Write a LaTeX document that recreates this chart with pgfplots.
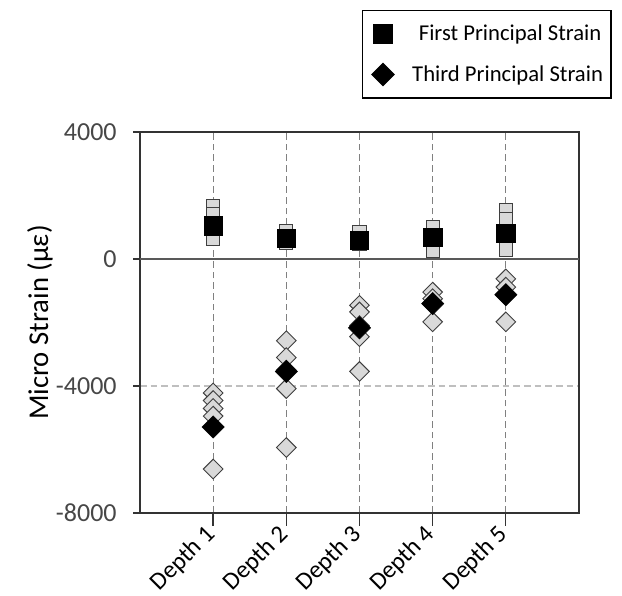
\documentclass[border=0pt]{standalone}
\usepackage{pgfplots}
\pgfplotsset{compat=1.18}
\usepackage{fontspec}
\setmainfont{Carlito}
\definecolor{lightfill}{HTML}{D9D9D9}
\definecolor{edgegray}{HTML}{3F3F3F}
\begin{document}
\begin{tikzpicture}
\useasboundingbox (-105pt,-62.25pt) rectangle (361.5pt,384.75pt);
\begin{axis}[
  at={(0,0)}, anchor=south west, scale only axis,
  width=329.25pt, height=285.75pt,
  xmin=0, xmax=6, ymin=-8000, ymax=4000,
  xtick={1,2,3,4,5},
  xticklabels={Depth 1,Depth 2,Depth 3,Depth 4,Depth 5},
  ytick={-8000,-4000,0,4000},
  scaled y ticks=false,
  tick align=outside, tick pos=left,
  major tick length=5pt,
  xtick style={/pgfplots/major tick length=9.5pt, black!80, line width=1pt},
  ytick style={black!80, line width=1pt},
  xmajorgrids, ymajorgrids,
  x grid style={gray, line width=0.9pt, dash pattern=on 5pt off 3pt},
  y grid style={black!25, line width=0.9pt, dash pattern=on 5pt off 3pt},
  axis line style={black!80, line width=1.1pt},
  /pgf/number format/assume math mode=true,
  /pgf/number format/1000 sep={},
  yticklabel style={font=\fontsize{19.5}{21}\selectfont, text=black!72, xshift=-9pt},
  xticklabel style={xshift=-7pt, yshift=-1pt, rotate=45, anchor=north east, font=\fontsize{18.5}{20}\selectfont, inner sep=1pt},
  ylabel={Micro Strain (με)},
  every axis y label/.style={at={(axis description cs:-0.228,0.5)}, rotate=90, anchor=center, font=\fontsize{21.5}{24}\selectfont},
  legend style={at={(axis description cs:0.5057,1.3202)}, anchor=north west,
    draw=black, line width=0.8pt, inner xsep=4pt, inner ysep=9pt,
    font=\fontsize{17}{20}\selectfont, row sep=13pt},
  legend cell align=left,
  legend image code/.code={\path[draw=none] (0cm,0cm) (0.8cm,0cm); \draw[#1] plot coordinates {(0.4cm,0cm)};},
  clip=false,
]
% zero line
\addplot[black!65, line width=1.3pt, forget plot] coordinates {(0,0) (6,0)};

% individual first principal strain (light squares)
\addplot[only marks, mark=square*, mark size=4.9pt,
  mark options={fill=lightfill, draw=edgegray, line width=0.7pt}, forget plot]
  coordinates {
  (1,1666) (1,1428) (1,1000) (1,647)
  (2,890) (2,620) (2,560) (2,520)
  (3,844) (3,560) (3,480) (3,500)
  (4,1016) (4,700) (4,600) (4,260)
  (5,1552) (5,1250) (5,500) (5,300)
  };
% individual third principal strain (light diamonds)
\addplot[only marks, mark=square*, mark size=5.2pt,
  mark options={rotate=45, fill=lightfill, draw=edgegray, line width=0.7pt}, forget plot]
  coordinates {
  (1,-4219) (1,-4458) (1,-4708) (1,-4948) (1,-6615)
  (2,-2573) (2,-3104) (2,-3500) (2,-4083) (2,-5938)
  (3,-1458) (3,-1667) (3,-2100) (3,-2448) (3,-3542)
  (4,-1042) (4,-1250) (4,-1400) (4,-1979)
  (5,-625) (5,-885) (5,-1100) (5,-1979)
  };
% means
\addplot[only marks, mark=square*, mark size=6.9pt, mark options={fill=black, draw=black}]
  coordinates {(1,1041) (2,646) (3,594) (4,677) (5,812)};
\addlegendentry{\hspace{13.5pt}First Principal Strain}
\addplot[only marks, mark=square*, mark size=5.9pt, mark options={rotate=45, fill=black, draw=black}]
  coordinates {(1,-5291) (2,-3542) (3,-2167) (4,-1406) (5,-1125)};
\addlegendentry{\hspace{8.5pt}Third Principal Strain}
\end{axis}
\end{tikzpicture}
\end{document}
